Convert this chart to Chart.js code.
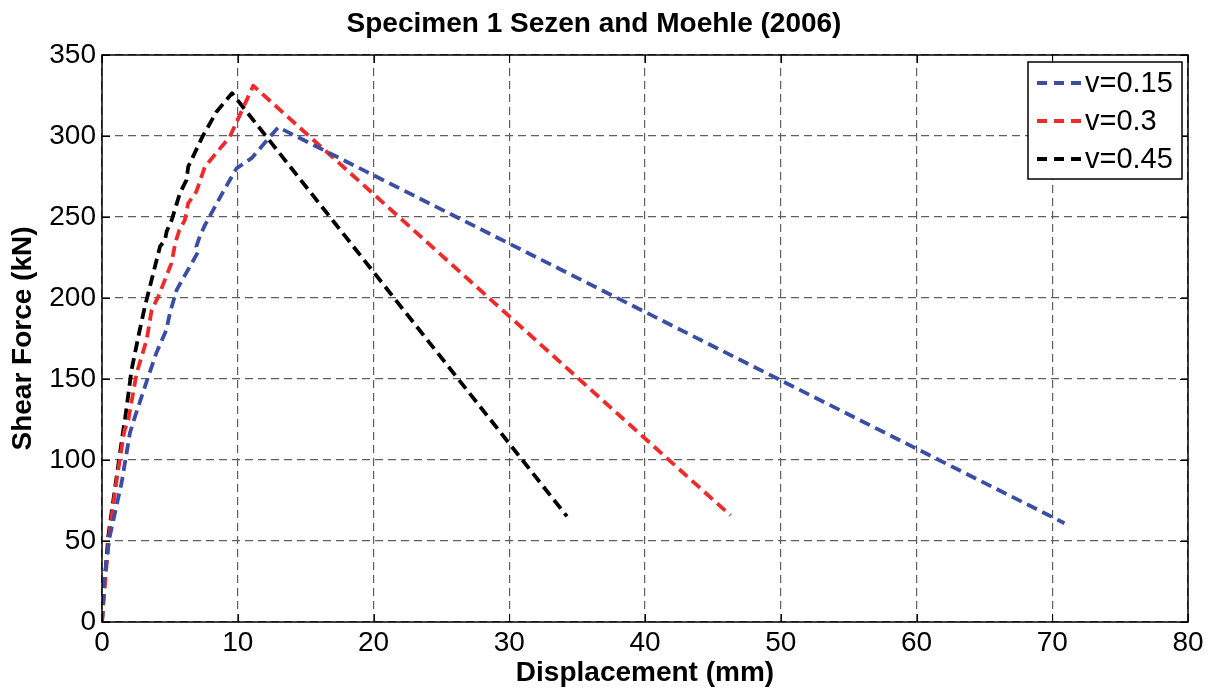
<!DOCTYPE html>
<html><head><meta charset="utf-8">
<script src="https://cdn.jsdelivr.net/npm/chart.js@4.4.0/dist/chart.umd.min.js"></script>
<style>html,body{margin:0;padding:0;background:#fff}#wrap{width:1215px;height:693px}</style>
</head><body><div id="wrap"><canvas id="c" width="1215" height="693"></canvas></div>
<script>
// ---- data ----
const chartTitle = 'Specimen 1 Sezen and Moehle (2006)';
const xAxisTitle = 'Displacement (mm)';
const yAxisTitle = 'Shear Force (kN)';
const xTickValues = [0, 10, 20, 30, 40, 50, 60, 70, 80];
const yTickValues = [0, 50, 100, 150, 200, 250, 300, 350];
const seriesLabels = ['v=0.15', 'v=0.3', 'v=0.45'];
const seriesColors = ['#3A4EA5', '#EE2A2A', '#000000'];

const blueX = [0, 0.1, 0.55, 1.44, 2.06, 2.43, 3.41, 4.0, 4.74, 5.0, 5.5, 7.09, 6.95, 7.2, 7.58, 8.93, 9.91, 11.02, 12.98, 70.9];
const blueY = [0, 22, 52, 85.8, 116.8, 126.8, 151.5, 166, 180.3, 190.6, 205, 228.6, 231.7, 238, 245, 265.7, 280, 286.3, 305.4, 61];

const redX = [0, 0.12, 0.5, 1.12, 1.65, 1.94, 2.55, 3.29, 3.66, 4.15, 5.12, 5.4, 5.7, 6.1, 6.35, 6.95, 7.58, 9.42, 9.91, 11.14, 46.3];
const redY = [0, 13, 52, 90, 118, 124.8, 153.6, 174.2, 192.7, 200.9, 221.5, 234, 242, 248, 258.5, 265.7, 281, 299.6, 308.5, 331, 65.8];

const blackX = [0, 0.1, 0.46, 1.08, 1.57, 1.69, 2.18, 2.78, 3.16, 4.27, 4.64, 4.76, 5.13, 5.74, 6.23, 6.35, 7.4, 8.44, 9.58, 34.25];
const blackY = [0, 13.8, 52.8, 89.8, 118.6, 124.9, 155.7, 180.3, 194.7, 231.7, 235.9, 241, 248, 264.7, 272.9, 281, 299.6, 315, 326.4, 65.2];

// ---- build ----
const FONT = '"Liberation Sans", Arial, Helvetica, sans-serif';
const DASH = [11, 6];
const toPts = (xs, ys) => xs.map((x, i) => ({ x: x, y: ys[i] }));
const seriesPts = [toPts(blueX, blueY), toPts(redX, redY), toPts(blackX, blackY)];

const datasets = seriesPts.map((pts, i) => ({
  label: seriesLabels[i],
  data: pts,
  borderColor: seriesColors[i],
  backgroundColor: seriesColors[i],
  borderWidth: 3.8,
  borderDash: DASH,
  borderCapStyle: 'butt',
  borderJoinStyle: 'round',
  pointRadius: 0,
  pointHoverRadius: 0,
  tension: 0,
  fill: false
}));

const framePlugin = {
  id: 'frame',
  afterDraw(chart) {
    const { ctx, chartArea: a, scales } = chart;
    ctx.save();
    ctx.setLineDash([]);
    ctx.strokeStyle = '#000';
    ctx.lineWidth = 1.5;
    ctx.strokeRect(a.left, a.top, a.right - a.left, a.bottom - a.top);
    ctx.lineWidth = 1;
    const tl = 8;
    ctx.beginPath();
    xTickValues.forEach(v => {
      const px = Math.round(scales.x.getPixelForValue(v)) + 0.5;
      ctx.moveTo(px, a.bottom); ctx.lineTo(px, a.bottom - tl);
      ctx.moveTo(px, a.top); ctx.lineTo(px, a.top + tl);
    });
    yTickValues.forEach(v => {
      const py = Math.round(scales.y.getPixelForValue(v)) + 0.5;
      ctx.moveTo(a.left, py); ctx.lineTo(a.left + tl, py);
      ctx.moveTo(a.right, py); ctx.lineTo(a.right - tl, py);
    });
    ctx.stroke();

    // legend
    const bw = 154, bh = 117;
    const bx = a.right - 6 - bw, by = a.top + 7;
    ctx.fillStyle = '#fff';
    ctx.fillRect(bx, by, bw, bh);
    ctx.strokeStyle = '#000';
    ctx.lineWidth = 1.5;
    ctx.strokeRect(bx, by, bw, bh);
    chart.data.datasets.forEach((ds, i) => {
      const y = by + 21 + i * 38;
      ctx.beginPath();
      ctx.setLineDash([10, 7]);
      ctx.strokeStyle = ds.borderColor;
      ctx.lineWidth = 3.8;
      ctx.moveTo(bx + 9, y); ctx.lineTo(bx + 53, y);
      ctx.stroke();
      ctx.setLineDash([]);
      ctx.fillStyle = '#000';
      ctx.font = '29px ' + FONT;
      ctx.textBaseline = 'middle';
      ctx.textAlign = 'left';
      ctx.fillText(ds.label, bx + 57, y + 1);
    });
    ctx.restore();
  }
};

new Chart(document.getElementById('c'), {
  type: 'line',
  data: { datasets: datasets },
  plugins: [framePlugin],
  options: {
    responsive: false,
    animation: false,
    devicePixelRatio: 1,
    layout: { padding: { left: 0, right: 27, top: 0, bottom: 0 } },
    plugins: {
      legend: { display: false },
      tooltip: { enabled: false },
      title: {
        display: true,
        text: chartTitle,
        color: '#000',
        font: { family: FONT, size: 28, weight: 'bold' },
        padding: { top: 7, bottom: 14.4 }
      }
    },
    scales: {
      x: {
        type: 'linear',
        min: 0, max: 80,
        afterFit: s => { s.height = 71; },
        afterBuildTicks: s => { s.ticks = xTickValues.map(v => ({ value: v })); },
        ticks: { color: '#000', font: { family: FONT, size: 28 }, padding: 4, autoSkip: false, maxRotation: 0 },
        grid: { color: '#5f5f5f', lineWidth: 1.2, drawTicks: false },
        border: { display: false, dash: [8, 5] },
        title: { display: true, text: xAxisTitle, color: '#000', font: { family: FONT, size: 28, weight: 'bold' }, padding: { top: 0, bottom: 3 } }
      },
      y: {
        type: 'linear',
        min: 0, max: 350,
        afterFit: s => { s.width = 102; },
        afterBuildTicks: s => { s.ticks = yTickValues.map(v => ({ value: v })); },
        ticks: { color: '#000', font: { family: FONT, size: 28 }, padding: 6, autoSkip: false },
        grid: { color: '#5f5f5f', lineWidth: 1.2, drawTicks: false },
        border: { display: false, dash: [8, 5] },
        title: { display: true, text: yAxisTitle, color: '#000', font: { family: FONT, size: 28, weight: 'bold' }, padding: { top: 6, bottom: 0 } }
      }
    }
  }
});
</script></body></html>
